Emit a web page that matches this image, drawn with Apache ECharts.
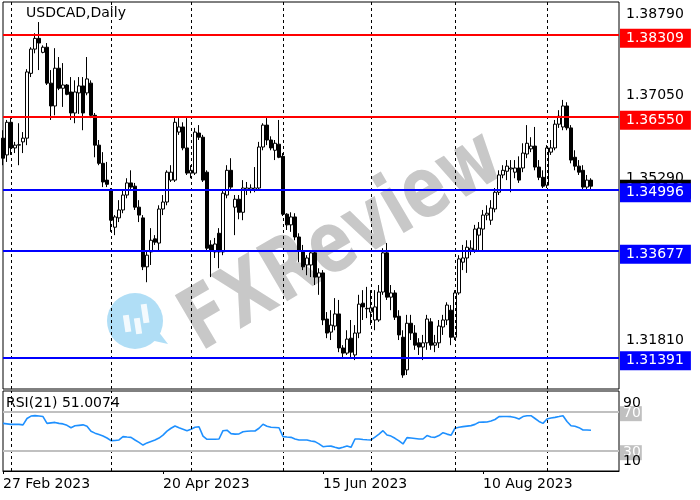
<!DOCTYPE html>
<html><head><meta charset="utf-8">
<script src="https://cdn.jsdelivr.net/npm/echarts@6/dist/echarts.min.js"></script>
<style>html,body{margin:0;padding:0;background:#fff}#c{width:700px;height:500px}</style>
</head><body><div id="c"></div>
<script>
const opens = [1.3610,1.3574,1.3644,1.3589,1.3595,1.3602,1.3610,1.3749,1.3801,1.3824,
 1.3794,1.3805,1.3728,1.3679,1.3760,1.3717,1.3724,1.3709,1.3664,1.3707,
 1.3722,1.3707,1.3728,1.3659,1.3595,1.3556,1.3520,1.3499,1.3419,1.3439,
 1.3456,1.3488,1.3514,1.3507,1.3462,1.3439,1.3334,1.3366,1.3394,1.3385,
 1.3458,1.3473,1.3520,1.3520,1.3623,1.3634,1.3589,1.3535,1.3535,1.3621,
 1.3612,1.3537,1.3381,1.3366,1.3406,1.3366,1.3488,1.3541,1.3462,1.3479,
 1.3451,1.3499,1.3499,1.3499,1.3503,1.3591,1.3638,1.3606,1.3584,1.3597,
 1.3571,1.3447,1.3424,1.3441,1.3398,1.3366,1.3338,1.3338,1.3364,1.3312,
 1.3321,1.3222,1.3194,1.3207,1.3233,1.3160,1.3149,1.3181,1.3145,1.3192,
 1.3256,1.3244,1.3237,1.3220,1.3220,1.3280,1.3364,1.3269,1.3278,1.3228,
 1.3183,1.3113,1.3213,1.3192,1.3171,1.3162,1.3171,1.3216,1.3166,1.3171,
 1.3205,1.3220,1.3241,1.3183,1.3278,1.3344,1.3353,1.3370,1.3370,1.3402,
 1.3415,1.3445,1.3434,1.3458,1.3494,1.3531,1.3539,1.3544,1.3537,1.3546,
 1.3546,1.3576,1.3587,1.3593,1.3548,1.3526,1.3509,1.3580,1.3589,1.3640,
 1.3634,1.3679,1.3632,1.3569,1.3550,1.3541,1.3505,1.3520];
const closes = [1.3567,1.3644,1.3589,1.3595,1.3596,1.3610,1.3752,1.3801,1.3824,1.3814,
 1.3805,1.3728,1.3679,1.3760,1.3717,1.3724,1.3704,1.3664,1.3709,1.3722,
 1.3664,1.3737,1.3659,1.3595,1.3556,1.3516,1.3511,1.3434,1.3441,1.3456,
 1.3488,1.3514,1.3505,1.3462,1.3445,1.3334,1.3359,1.3391,1.3387,1.3458,
 1.3473,1.3537,1.3537,1.3644,1.3634,1.3589,1.3535,1.3541,1.3623,1.3612,
 1.3520,1.3374,1.3370,1.3383,1.3366,1.3492,1.3541,1.3505,1.3479,1.3451,
 1.3503,1.3503,1.3503,1.3503,1.3591,1.3638,1.3606,1.3589,1.3599,1.3569,
 1.3447,1.3424,1.3441,1.3398,1.3370,1.3334,1.3353,1.3364,1.3312,1.3321,
 1.3220,1.3192,1.3209,1.3233,1.3160,1.3149,1.3179,1.3151,1.3192,1.3254,
 1.3248,1.3245,1.3246,1.3248,1.3280,1.3364,1.3269,1.3278,1.3226,1.3188,
 1.3102,1.3213,1.3192,1.3166,1.3162,1.3171,1.3222,1.3166,1.3171,1.3207,
 1.3220,1.3252,1.3183,1.3278,1.3351,1.3353,1.3376,1.3374,1.3415,1.3417,
 1.3445,1.3449,1.3460,1.3494,1.3531,1.3541,1.3550,1.3546,1.3546,1.3520,
 1.3578,1.3599,1.3593,1.3548,1.3526,1.3507,1.3589,1.3589,1.3640,1.3657,
 1.3679,1.3632,1.3563,1.3550,1.3537,1.3505,1.3520,1.3507];
const lows = [1.3552,1.3559,1.3574,1.3578,1.3552,1.3578,1.3595,1.3741,1.3792,1.3756,
 1.3792,1.3724,1.3649,1.3659,1.3713,1.3677,1.3702,1.3649,1.3642,1.3662,
 1.3627,1.3702,1.3653,1.3569,1.3552,1.3505,1.3505,1.3409,1.3402,1.3430,
 1.3449,1.3481,1.3499,1.3456,1.3430,1.3327,1.3301,1.3338,1.3381,1.3370,
 1.3445,1.3466,1.3516,1.3516,1.3617,1.3584,1.3531,1.3524,1.3531,1.3606,
 1.3516,1.3370,1.3312,1.3353,1.3331,1.3359,1.3481,1.3499,1.3402,1.3436,
 1.3434,1.3488,1.3492,1.3494,1.3499,1.3584,1.3595,1.3584,1.3563,1.3567,
 1.3443,1.3413,1.3409,1.3391,1.3344,1.3327,1.3316,1.3312,1.3295,1.3274,
 1.3209,1.3181,1.3177,1.3198,1.3151,1.3138,1.3145,1.3138,1.3134,1.3181,
 1.3220,1.3224,1.3209,1.3198,1.3216,1.3274,1.3263,1.3241,1.3220,1.3177,
 1.3096,1.3102,1.3177,1.3156,1.3145,1.3134,1.3156,1.3156,1.3151,1.3160,
 1.3188,1.3209,1.3166,1.3177,1.3274,1.3327,1.3321,1.3359,1.3364,1.3370,
 1.3370,1.3434,1.3424,1.3451,1.3488,1.3524,1.3520,1.3494,1.3524,1.3514,
 1.3537,1.3567,1.3580,1.3541,1.3520,1.3503,1.3503,1.3574,1.3584,1.3632,
 1.3627,1.3627,1.3556,1.3541,1.3531,1.3499,1.3499,1.3499];
const highs = [1.3627,1.3649,1.3653,1.3602,1.3642,1.3623,1.3758,1.3805,1.3835,1.3859,
 1.3809,1.3814,1.3756,1.3803,1.3784,1.3771,1.3726,1.3741,1.3734,1.3741,
 1.3741,1.3784,1.3734,1.3664,1.3606,1.3580,1.3559,1.3503,1.3445,1.3477,
 1.3499,1.3524,1.3541,1.3514,1.3477,1.3445,1.3370,1.3417,1.3402,1.3466,
 1.3488,1.3541,1.3552,1.3653,1.3653,1.3644,1.3653,1.3552,1.3632,1.3638,
 1.3617,1.3541,1.3391,1.3396,1.3417,1.3499,1.3552,1.3567,1.3488,1.3488,
 1.3520,1.3516,1.3511,1.3548,1.3602,1.3642,1.3653,1.3614,1.3606,1.3649,
 1.3578,1.3449,1.3451,1.3449,1.3406,1.3381,1.3359,1.3370,1.3370,1.3331,
 1.3327,1.3237,1.3241,1.3267,1.3263,1.3166,1.3198,1.3220,1.3209,1.3274,
 1.3284,1.3291,1.3284,1.3284,1.3295,1.3374,1.3385,1.3295,1.3284,1.3241,
 1.3198,1.3231,1.3231,1.3209,1.3181,1.3188,1.3231,1.3224,1.3188,1.3220,
 1.3231,1.3258,1.3252,1.3284,1.3359,1.3381,1.3391,1.3391,1.3424,1.3430,
 1.3456,1.3466,1.3477,1.3503,1.3541,1.3552,1.3563,1.3563,1.3563,1.3571,
 1.3599,1.3638,1.3612,1.3634,1.3563,1.3541,1.3595,1.3606,1.3649,1.3670,
 1.3692,1.3687,1.3638,1.3584,1.3563,1.3552,1.3531,1.3524];
const rsi = [58,57.5,57,57,57,56.5,63,65.5,66,65.5,
 65,58,58.5,59,58,57.5,56,53.5,55.5,56,
 56.5,55,50,48,46.5,45,43,40.3,40.5,41,
 44.4,44,43.7,41,38.5,35.8,38,39.5,41,43,
 46,50,53,55.3,53.5,52,50.5,52,54,54.6,
 45,41.7,41.7,41.7,42,50.5,51,47.5,47,47.2,
 49.5,50,50.2,50.2,53,57.1,55,54,53.8,53.5,
 44.4,44,43.7,42,41,41,41,40,39.3,37,
 34.1,34.5,34.7,33.5,32.4,33.5,34.8,33.5,42,42,
 41.5,41.2,41,44,47,50.5,46.1,45,42.7,40,
 36.9,43.4,43,42.5,42,42,45.5,44,43.7,45.5,
 48.5,47,45.8,53,54,54.7,55.2,55.7,57,59.1,
 59.3,59.5,60.5,62,64.9,65,65,64.9,64,62.5,
 65,65.9,65.9,63,60,58,62.5,63.5,64.2,65,
 65.9,60,55.6,55,53.6,51.2,51.3,51.0074];

const xTickIndex = [0, 40, 80, 120];
const xTickLabels = ['27 Feb 2023', '20 Apr 2023', '15 Jun 2023', '10 Aug 2023'];
const separatorIndex = [2, 27, 47, 70, 92, 113, 136];
const priceTicks = [1.38790, 1.37050, 1.35290, 1.31810];
const redLevels = [1.38309, 1.36550];
const blueLevels = [1.34996, 1.33677, 1.31391];
const rsiLevels = [70, 30];
const rsiTicks = [90, 10];
const slotCount = 155;
const categories = Array.from({length: slotCount}, (_, i) => String(i));

const FONT = 'DejaVu Sans';
const HIDDEN = 'rgba(0,0,0,0)';
const candleData = opens.map((o, i) => [o, closes[i], lows[i], highs[i]]);

const levelLabel = (bg, txt) => ({
  show: true, position: 'end', distance: 1, offset: [0, 3],
  formatter: txt, color: '#fff', backgroundColor: bg,
  padding: [2, 7, 2, 6], lineHeight: 15, fontSize: 14, fontFamily: FONT
});

const mainMarks = [];
separatorIndex.forEach(i => mainMarks.push({xAxis: categories[i], lineStyle: {color: '#000', width: 1, type: [3, 3]}, label: {show: false}}));
priceTicks.forEach(v => mainMarks.push({yAxis: v, lineStyle: {color: HIDDEN, width: 1},
  label: {show: true, position: 'end', distance: 1, offset: [0, 2], formatter: v.toFixed(5), color: '#000',
    padding: [2, 7, 2, 6], lineHeight: 15, fontSize: 14, fontFamily: FONT}}));
mainMarks.push({yAxis: closes[closes.length - 1], lineStyle: {color: HIDDEN, width: 1},
  label: levelLabel('#000', closes[closes.length - 1].toFixed(5))});
redLevels.forEach(v => mainMarks.push({yAxis: v, lineStyle: {color: '#ff0000', width: 2, type: 'solid'}, label: levelLabel('#ff0000', v.toFixed(5))}));
blueLevels.forEach(v => mainMarks.push({yAxis: v, lineStyle: {color: '#0000ff', width: 2, type: 'solid'}, label: levelLabel('#0000ff', v.toFixed(5))}));

const rsiMarks = [];
separatorIndex.forEach(i => rsiMarks.push({xAxis: categories[i], lineStyle: {color: '#000', width: 1, type: [3, 3]}, label: {show: false}}));
rsiLevels.forEach(v => rsiMarks.push({yAxis: v, lineStyle: {color: '#c0c0c0', width: 2, type: 'solid'},
  label: {show: true, position: 'end', distance: 1, offset: [0, 2], formatter: String(v), color: '#fff', backgroundColor: '#c0c0c0',
    padding: [0, 1, 0, 3], lineHeight: 15, fontSize: 14, fontFamily: FONT}}));
rsiTicks.forEach((v, k) => rsiMarks.push({yAxis: v, lineStyle: {color: HIDDEN, width: 1},
  label: {show: true, position: 'end', distance: 1, offset: [0, k === 0 ? 11 : -9], formatter: String(v), color: '#000',
    padding: [0, 1, 0, 3], lineHeight: 15, fontSize: 14, fontFamily: FONT}}));

const chart = echarts.init(document.getElementById('c'), null, {renderer: 'canvas'});
chart.setOption({
  animation: false,
  backgroundColor: '#fff',
  textStyle: {fontFamily: FONT},
  title: [
    {text: 'USDCAD,Daily', left: 26, top: 6, padding: 0, textStyle: {fontSize: 14, fontWeight: 'normal', color: '#000', fontFamily: FONT}},
    {text: 'RSI(21) 51.0074', left: 6, top: 396, padding: 0, textStyle: {fontSize: 14, fontWeight: 'normal', color: '#000', fontFamily: FONT}}
  ],
  graphic: [
    {type: 'text', x: 343, y: 243, rotation: 0.53, scaleX: 0.95, scaleY: 1.25, z: 0, silent: true,
      style: {text: 'FXReview', font: 'bold 68px "DejaVu Sans"', fill: '#c8c8c8', align: 'center', verticalAlign: 'middle'}},
    {type: 'circle', shape: {cx: 135, cy: 321, r: 28}, z: 0, silent: true, style: {fill: '#b0def6'}},
    {type: 'polygon', shape: {points: [[150, 340], [168, 344], [158, 331]]}, z: 0, silent: true, style: {fill: '#b0def6'}},
    {type: 'rect', shape: {x: 124, y: 315, width: 6, height: 17}, rotation: 0.15, originX: 127, originY: 323, z: 0, silent: true, style: {fill: '#fff', opacity: 0.85}},
    {type: 'rect', shape: {x: 135, y: 318, width: 6, height: 16}, rotation: 0.15, originX: 138, originY: 326, z: 0, silent: true, style: {fill: '#fff', opacity: 0.85}},
    {type: 'rect', shape: {x: 142, y: 304, width: 6, height: 19}, rotation: 0.15, originX: 145, originY: 313, z: 0, silent: true, style: {fill: '#fff', opacity: 0.85}}
  ],
  grid: [
    {left: 3, width: 616, top: 2, height: 387, show: true, borderColor: '#000', borderWidth: 1, backgroundColor: 'transparent'},
    {left: 3, width: 616, top: 391, height: 80, show: true, borderColor: '#000', borderWidth: 1, backgroundColor: 'transparent'}
  ],
  xAxis: [
    {type: 'category', gridIndex: 0, data: categories, boundaryGap: false,
      axisLine: {show: false}, axisTick: {show: false}, axisLabel: {show: false}, splitLine: {show: false}},
    {type: 'category', gridIndex: 1, data: categories, boundaryGap: false,
      axisLine: {show: true, lineStyle: {color: '#000'}},
      axisTick: {show: true, length: 3, interval: (i) => xTickIndex.includes(i), lineStyle: {color: '#000'}},
      axisLabel: {show: true, interval: (i) => xTickIndex.includes(i), align: 'left', margin: 6,
        formatter: (v, i) => { const k = xTickIndex.indexOf(i); return k >= 0 ? xTickLabels[k] : ''; },
        color: '#000', fontSize: 14, fontFamily: FONT},
      splitLine: {show: false}}
  ],
  yAxis: [
    {type: 'value', gridIndex: 0, min: 1.3072, max: 1.3902, show: false, splitLine: {show: false}},
    {type: 'value', gridIndex: 1, min: 9.2, max: 91.2, show: false, splitLine: {show: false}}
  ],
  series: [
    {type: 'candlestick', xAxisIndex: 0, yAxisIndex: 0, data: candleData, barWidth: 3, z: 3,
      itemStyle: {color: '#ffffff', color0: '#000000', borderColor: '#000000', borderColor0: '#000000', borderWidth: 1},
      markLine: {silent: true, precision: 5, symbol: ['none', 'none'], animation: false, data: mainMarks}},
    {type: 'line', xAxisIndex: 1, yAxisIndex: 1, data: rsi, showSymbol: false, symbol: 'none', z: 3,
      lineStyle: {color: '#1e90ff', width: 1.6},
      markLine: {silent: true, precision: 5, symbol: ['none', 'none'], animation: false, data: rsiMarks}}
  ]
});
</script>
</body></html>
